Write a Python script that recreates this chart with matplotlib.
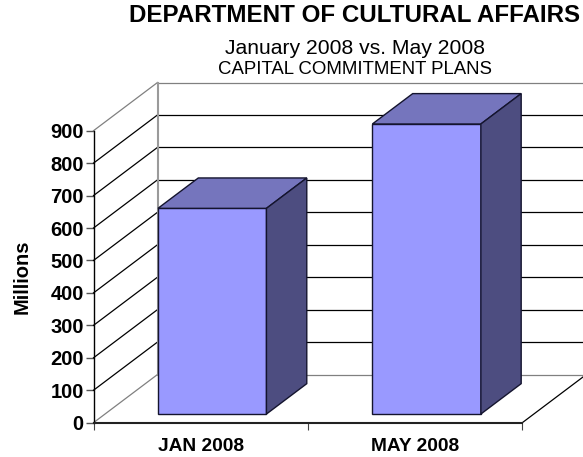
import matplotlib
matplotlib.use('Agg')
import matplotlib.pyplot as plt

plt.rcParams['font.family'] = ['Liberation Sans', 'DejaVu Sans']

W, H = 583, 457

categories = ['JAN 2008', 'MAY 2008']
values = [634, 894]
y_ticks = [0, 100, 200, 300, 400, 500, 600, 700, 800, 900]

title = 'DEPARTMENT OF CULTURAL AFFAIRS'
subtitle = 'January 2008 vs. May 2008'
subtitle2 = 'CAPITAL COMMITMENT PLANS'
y_label = 'Millions'

# plot box in pixels, measured on the picture
LEFT, RIGHT, TOP, BOTTOM = 93.5, 522.3, 130.7, 422.7
# how far the back wall sits from the front plane, in data units
DEPTH_X = 64 / ((RIGHT - LEFT) / 2)
DEPTH_Y = 48.2 / ((BOTTOM - TOP) / 900)
BAR_WIDTH = 0.506
BAR_D0, BAR_D1 = 0.18, 0.81

FRONT = '#9999FF'
ROOF = '#7575BD'
SIDE = '#4D4D80'
EDGE = '#14142E'
GRAY = '#808080'


def project(x, y, d):
    return x + d * DEPTH_X, y + d * DEPTH_Y


def draw_bar(ax, pos, val):
    x0, x1 = pos - BAR_WIDTH / 2, pos + BAR_WIDTH / 2
    faces = [
        ([(x0, 0, BAR_D0), (x1, 0, BAR_D0), (x1, val, BAR_D0), (x0, val, BAR_D0)], FRONT),
        ([(x0, val, BAR_D0), (x1, val, BAR_D0), (x1, val, BAR_D1), (x0, val, BAR_D1)], ROOF),
        ([(x1, 0, BAR_D0), (x1, 0, BAR_D1), (x1, val, BAR_D1), (x1, val, BAR_D0)], SIDE),
    ]
    for corners, color in faces:
        pts = [project(*c) for c in corners]
        ax.fill([p[0] for p in pts], [p[1] for p in pts], facecolor=color, edgecolor=EDGE,
                lw=1.0, clip_on=False, zorder=5, joinstyle='miter')


fig = plt.figure(figsize=(W / 100, H / 100), dpi=100)
ax = fig.add_axes([LEFT / W, 1 - BOTTOM / H, (RIGHT - LEFT) / W, (BOTTOM - TOP) / H])
ax.set_xlim(-0.5, 1.5)
ax.set_ylim(0, 900)

# side wall, back wall and floor lines
for v in y_ticks:
    color = GRAY if v in (0, 900) else 'black'
    px0, py0 = project(-0.5, v, 0)
    px1, py1 = project(-0.5, v, 1)
    px2, py2 = project(1.5, v, 1)
    ax.plot([px0, px1], [py0, py1], color=color, lw=0.9, clip_on=False, zorder=2)
    ax.plot([px1, px2], [py1, py2], color=color, lw=0.9, clip_on=False, zorder=2)
bx, by = project(-0.5, 0, 1)
tx, ty = project(-0.5, 900, 1)
ax.plot([bx, tx], [by, ty], color='#9a9a9a', lw=1.5, clip_on=False, zorder=2)
fx0, fy0 = project(1.5, 0, 0)
fx1, fy1 = project(1.5, 0, 1)
ax.plot([fx0, fx1], [fy0, fy1], color='black', lw=0.9, clip_on=False, zorder=2)

for i, v in enumerate(values):
    draw_bar(ax, i, v)

for s in ('top', 'right'):
    ax.spines[s].set_visible(False)
ax.spines['left'].set_linewidth(1.0)
ax.spines['bottom'].set_linewidth(1.5)
ax.spines['bottom'].set_color('#222222')

ax.set_yticks(y_ticks)
ax.set_yticklabels([str(v) for v in y_ticks], fontsize=14.5, fontweight='bold')
ax.tick_params(axis='y', length=5.5, width=1.0, color='#555555', pad=1.5)
ax.set_xticks([-0.5, 0.5, 1.5])
ax.set_xticklabels(['', '', ''])
ax.tick_params(axis='x', which='major', length=5, width=0.8, color='#444444')
ax.set_xticks([0, 1], labels=categories, minor=True)
ax.tick_params(axis='x', which='minor', length=0, pad=11, labelsize=13.8)
for lab in ax.get_xticklabels(minor=True):
    lab.set_fontweight('bold')

fig.text(22.5 / W, 1 - 277 / H, y_label, rotation=90, fontsize=14.5, fontweight='bold', ha='center', va='center')
fig.text(355 / W, 1 - 15 / H, title, fontsize=17.4, fontweight='bold', ha='center', va='center')
fig.text(355 / W, 1 - 48 / H, subtitle, fontsize=15.2, ha='center', va='center')
fig.text(355 / W, 1 - 69 / H, subtitle2, fontsize=13.4, ha='center', va='center')

fig.savefig('out.png', dpi=100)
